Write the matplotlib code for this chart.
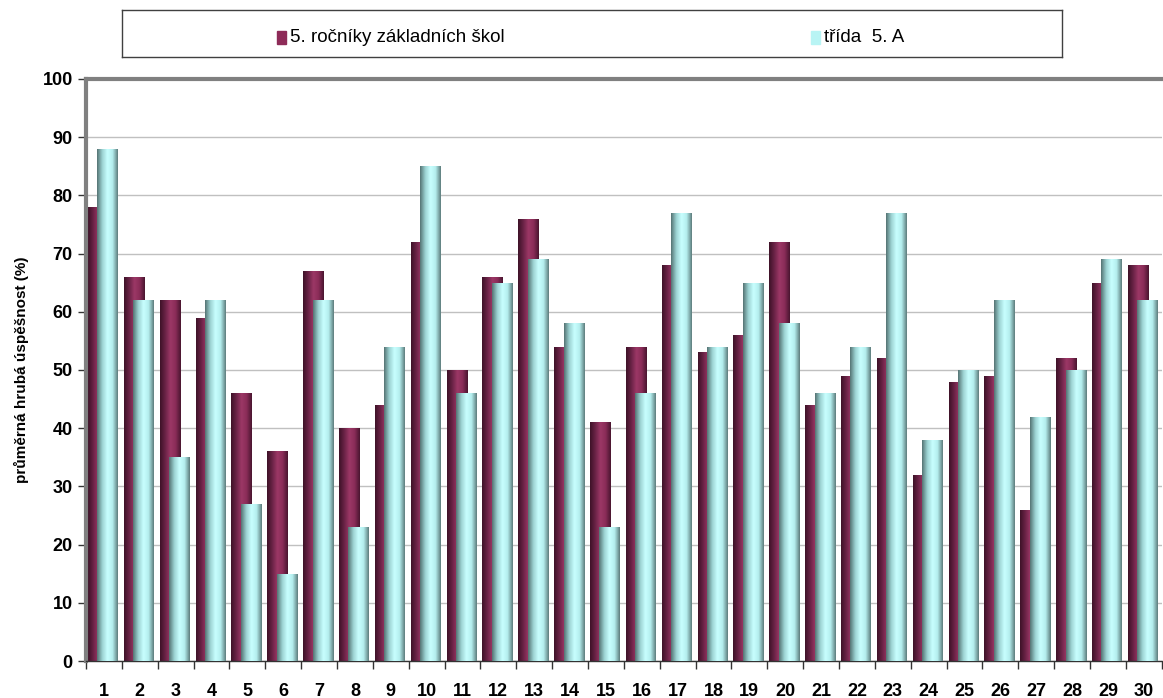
import matplotlib.pyplot as plt
import numpy as np
from matplotlib.colors import LinearSegmentedColormap

plt.rcParams["font.family"] = ["Liberation Sans", "DejaVu Sans"]

questions = list(range(1, 31))
schools = [78, 66, 62, 59, 46, 36, 67, 40, 44, 72, 50, 66, 76, 54, 41,
           54, 68, 53, 56, 72, 44, 49, 52, 32, 48, 49, 26, 52, 65, 68]
class_5a = [88, 62, 35, 62, 27, 15, 62, 23, 54, 85, 46, 65, 69, 58, 23,
            46, 77, 54, 65, 58, 46, 54, 77, 38, 50, 62, 42, 50, 69, 62]
series_labels = ["5. ročníky základních škol", "třída  5. A"]

MAROON = "#8e2b58"
TEAL = "#b8f4f4"
maroon_cmap = LinearSegmentedColormap.from_list(
    "maroon", ["#3e1228", "#6a2346", "#9c3866", "#8a2c58", "#4a1630"])
teal_cmap = LinearSegmentedColormap.from_list(
    "teal", ["#557474", "#9cd2d2", "#c8ffff", "#b4eeee", "#5e7e7e"])


def shade_bars(ax, bars, cmap, zorder):
    grad = np.linspace(0, 1, 64).reshape(1, -1)
    for b in bars:
        x0, y0 = b.get_x(), b.get_y()
        w, h = b.get_width(), b.get_height()
        im = ax.imshow(grad, cmap=cmap, aspect="auto", interpolation="bilinear",
                       extent=[x0, x0 + w, y0, y0 + h], zorder=zorder)
        im.set_clip_path(b)
        b.set_facecolor("none")


fig = plt.figure(figsize=(11.63, 6.98), dpi=100)
ax = fig.add_axes([0.0739, 0.053, 0.925, 0.834])

x = np.arange(len(questions))
width = 0.58
b1 = ax.bar(x - 0.153, schools, width, color=MAROON, linewidth=0, zorder=2,
            label=series_labels[0])
shade_bars(ax, b1, maroon_cmap, 2)
b2 = ax.bar(x + 0.11, class_5a, width, color=TEAL, linewidth=0, zorder=3,
            label=series_labels[1])
shade_bars(ax, b2, teal_cmap, 3)

ax.set_xlim(-0.5, len(questions) - 0.5)
ax.set_ylim(0, 100)
ax.set_yticks(range(0, 101, 10))
ax.yaxis.grid(True, color="#c0c0c0", linewidth=1)
ax.set_axisbelow(True)

ax.set_xticks(x)
ax.set_xticklabels([str(q) for q in questions], fontsize=13, fontweight="bold")
ax.set_xticks(np.arange(-0.5, len(questions), 1), minor=True)
ax.tick_params(axis="x", which="major", length=0, pad=16)
ax.tick_params(axis="x", which="minor", length=6, width=1, color="#333333")
ax.tick_params(axis="y", length=6, width=1, color="#333333", labelsize=13)
for lbl in ax.get_yticklabels():
    lbl.set_fontweight("bold")

ax.set_ylabel("průměrná hrubá úspěšnost (%)", fontsize=11, fontweight="bold",
              labelpad=10)

ax.spines["right"].set_visible(False)
ax.spines["top"].set_color("#808080")
ax.spines["top"].set_linewidth(3)
ax.spines["left"].set_color("#808080")
ax.spines["left"].set_linewidth(3)
ax.spines["bottom"].set_color("#333333")
ax.spines["bottom"].set_linewidth(1)

# legend box
lax = fig.add_axes([122 / 1163, 1 - 57 / 698, 940 / 1163, 47 / 698])
lax.set_xlim(0, 1)
lax.set_ylim(0, 1)
lax.set_xticks([])
lax.set_yticks([])
for s in lax.spines.values():
    s.set_color("#404040")
    s.set_linewidth(1)
entries = [(277, MAROON, series_labels[0]),
           (811, TEAL, series_labels[1])]
for px, col, text in entries:
    fx = (px - 122) / 940
    lax.add_patch(plt.Rectangle((fx, 0.28), 9 / 940, 0.28, color=col,
                                transform=lax.transAxes))
    lax.text(fx + 13 / 940, 0.42, text, fontsize=13.5, va="center", ha="left")

fig.savefig("out.png", dpi=100, facecolor="white")
